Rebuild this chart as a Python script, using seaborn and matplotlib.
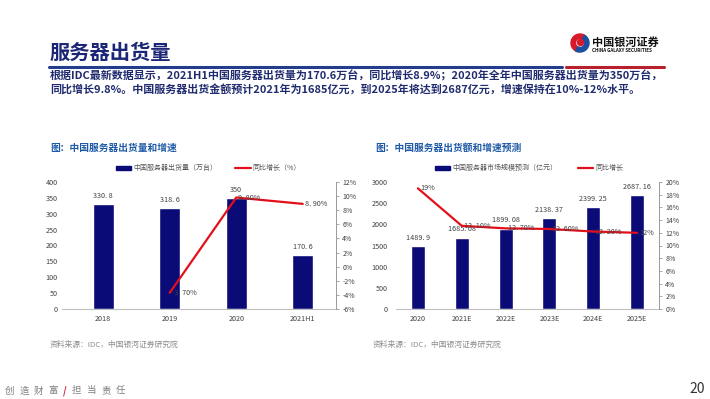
import numpy as np
import pandas as pd
import matplotlib
matplotlib.use("Agg")
import matplotlib.pyplot as plt
import seaborn as sns
from matplotlib.patches import Patch, Circle, Wedge
from matplotlib.lines import Line2D

# ---------------- data ----------------
left_cats = ["2018", "2019", "2020", "2021H1"]
left_units = [330.8, 318.6, 350, 170.6]          # 万台
left_growth = [np.nan, -3.7, 9.8, 8.9]           # %

right_cats = ["2020", "2021E", "2022E", "2023E", "2024E", "2025E"]
right_value = [1489.9, 1685.08, 1899.08, 2138.37, 2399.25, 2687.16]  # 亿元
right_growth = [19, 13.1, 12.7, 12.6, 12.2, 12]                       # %

left_ticks = [0, 50, 100, 150, 200, 250, 300, 350, 400]
left_rticks = [-6, -4, -2, 0, 2, 4, 6, 8, 10, 12]
right_ticks = [0, 500, 1000, 1500, 2000, 2500, 3000]
right_rticks = [0, 2, 4, 6, 8, 10, 12, 14, 16, 18, 20]

NAVY = "#0B0B78"
RED = "#E3101A"
TXT = "#404040"

sns.set_theme(style="white")
plt.rcParams["font.family"] = ["Noto Sans CJK SC", "DejaVu Sans"]
plt.rcParams["axes.unicode_minus"] = False

W, H = 710, 399
fig = plt.figure(figsize=(W / 100, H / 100), dpi=100)
fig.patch.set_facecolor("white")


def fx(px):
    return px / W


def fy(py):
    return 1 - py / H


def num_label(v):
    s = f"{v:g}"
    return s.replace(".", ". ")


def pct_label(v):
    if float(v).is_integer():
        return f"{v:g}%"
    return f"{v:.2f}%".replace(".", ". ")


def make_chart(rect, cats, vals, growth, yticks, rticks, legend_names, legend_x, xlim,
               ypad, colspace):
    ax = fig.add_axes(rect)
    df = pd.DataFrame({"cat": cats, "val": vals, "g": growth})
    sns.barplot(data=df, x="cat", y="val", order=cats, color=NAVY, width=0.32,
                saturation=1, ax=ax, zorder=2)
    ax.set_ylim(yticks[0], yticks[-1])
    ax.set_yticks(yticks)
    ax.set_yticklabels([str(t) for t in yticks], fontsize=5.2, color=TXT)
    ax.tick_params(axis="y", length=0, pad=ypad)
    ax.tick_params(axis="x", length=0, pad=4, labelsize=5.2, labelcolor=TXT)
    ax.set_xlabel("")
    ax.set_ylabel("")
    for s in ["top", "left", "right"]:
        ax.spines[s].set_visible(False)
    ax.spines["bottom"].set_color("#BFBFBF")
    ax.spines["bottom"].set_linewidth(0.8)
    for p, v in zip(ax.patches, vals):
        ax.annotate(num_label(v), (p.get_x() + p.get_width() / 2, p.get_height()),
                    xytext=(0, 3), textcoords="offset points", ha="center", va="bottom",
                    fontsize=5.2, color=TXT)

    ax2 = ax.twinx()
    sns.pointplot(data=df, x="cat", y="g", order=cats, color=RED, errorbar=None,
                  markersize=0, linewidth=1.6, ax=ax2)
    ax2.set_ylim(rticks[0], rticks[-1])
    ax2.set_yticks(rticks)
    ax2.set_yticklabels([f"{t}%" for t in rticks], fontsize=5, color=TXT)
    ax2.tick_params(axis="y", length=2.5, width=0.6, color="#9A9A9A", pad=2, direction="out")
    ax2.set_ylabel("")
    ax2.set_xlabel("")
    for s in ["top", "left", "bottom"]:
        ax2.spines[s].set_visible(False)
    ax2.spines["right"].set_color("#9A9A9A")
    ax2.spines["right"].set_linewidth(0.7)
    for i, g in enumerate(growth):
        if np.isnan(g):
            continue
        ax2.annotate(pct_label(g), (i, g), xytext=(1.5, 0), textcoords="offset points",
                     ha="left", va="center", fontsize=5.2, color=TXT)
    ax.set_xlim(*xlim)
    ax2.set_xlim(*xlim)

    handles = [Patch(facecolor=NAVY, edgecolor=NAVY),
               Line2D([0], [0], color=RED, lw=1.6)]
    fig.legend(handles, legend_names, loc="center left",
               bbox_to_anchor=(fx(legend_x), fy(168)), ncol=2, frameon=False,
               fontsize=5, labelcolor="#555555", handlelength=2.2, handleheight=0.5,
               handletextpad=0.3, columnspacing=colspace, borderpad=0, borderaxespad=0)
    return ax, ax2


make_chart([fx(62), fy(309), fx(274), 127 / H], left_cats, left_units, left_growth,
           left_ticks, left_rticks, ["中国服务器出货量（万台）", "同比增长（%）"], 116, (-0.62, 3.5),
           3, 2.6)
make_chart([fx(396), fy(309), fx(263), 127 / H], right_cats, right_value, right_growth,
           right_ticks, right_rticks, ["中国服务器市场规模预测（亿元）", "同比增长"], 435, (-0.5, 5.5),
           6, 3.0)

# ---------------- header ----------------
fig.text(fx(50), fy(52), "服务器出货量", fontsize=14.6, fontweight="bold",
         color="#1B2676", ha="left", va="center")
fig.add_artist(Line2D([fx(49), fx(562)], [fy(67), fy(67)], color="#233C8C", lw=2.2))
fig.add_artist(Line2D([fx(566), fx(664)], [fy(67), fy(67)], color="#B8202E", lw=2.2))
body1 = "根据IDC最新数据显示，2021H1中国服务器出货量为170.6万台，同比增长8.9%；2020年全年中国服务器出货量为350万台，"
body2 = "同比增长9.8%。中国服务器出货金额预计2021年为1685亿元，到2025年将达到2687亿元，增速保持在10%-12%水平。"
fig.text(fx(50), fy(76), body1, fontsize=7.95, fontweight="bold", color="#1F2B6E",
         ha="left", va="center")
fig.text(fx(50), fy(90), body2, fontsize=7.95, fontweight="bold", color="#1F2B6E",
         ha="left", va="center")

# logo
lax = fig.add_axes([fx(570), fy(53), fx(20), 20 / H])
lax.set_xlim(-1, 1)
lax.set_ylim(-1, 1)
lax.set_aspect("equal")
lax.axis("off")
lax.add_patch(Wedge((0, 0), 0.9, 60, 260, width=0.45, color="#D7192A"))
lax.add_patch(Wedge((0, 0), 0.9, 240, 420, width=0.45, color="#1D4FA0"))
lax.add_patch(Circle((0.05, 0.05), 0.3, color="#D7192A"))
fig.text(fx(592), fy(42), "中国银河证券", fontsize=8, fontweight="bold", color="#111111",
         ha="left", va="center")
fig.text(fx(592), fy(50), "CHINA GALAXY SECURITIES", fontsize=3.3, fontweight="bold",
         color="#111111", ha="left", va="center")

# chart titles
fig.text(fx(50), fy(148), "图：中国服务器出货量和增速", fontsize=7, fontweight="bold",
         color="#1F5AA6", ha="left", va="center")
fig.text(fx(375), fy(148), "图：中国服务器出货额和增速预测", fontsize=7, fontweight="bold",
         color="#1F5AA6", ha="left", va="center")

# sources
fig.text(fx(50), fy(345), "资料来源：IDC，中国银河证券研究院", fontsize=5.6, color="#8C8C8C",
         ha="left", va="center")
fig.text(fx(373), fy(345), "资料来源：IDC，中国银河证券研究院", fontsize=5.6, color="#8C8C8C",
         ha="left", va="center")

# footer
slogan = ["创", "造", "财", "富", "/", "担", "当", "责", "任"]
xpos = 5
for ch in slogan:
    is_slash = ch == "/"
    fig.text(fx(xpos), fy(391), ch, fontsize=6.8,
             color="#D7192A" if is_slash else "#7F7F7F",
             fontweight="bold" if is_slash else "normal", ha="left", va="center")
    xpos += 9 if is_slash else 14.5
fig.text(fx(705), fy(389), "20", fontsize=10, color="#333333", ha="right", va="center")

fig.savefig("out.png", dpi=100, facecolor="white")
